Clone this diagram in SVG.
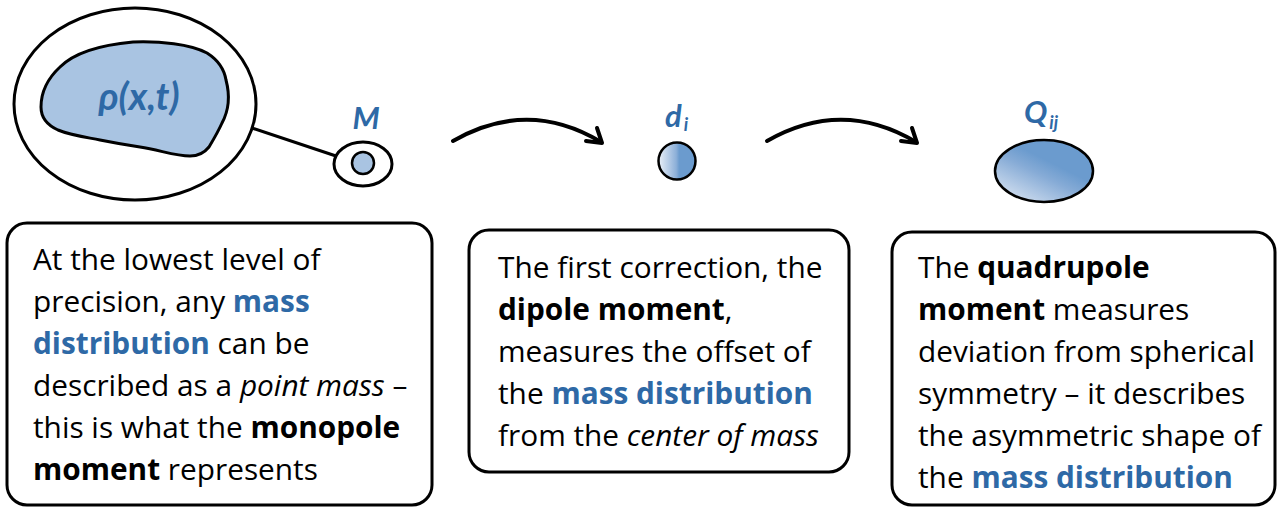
<svg xmlns="http://www.w3.org/2000/svg" width="1279" height="507" viewBox="0 0 1279 507">
  <style>
    .card { fill: #fff; stroke: #000; stroke-width: 3; }
    .sym { font-family: "Lato", "Noto Sans", sans-serif; font-style: italic; font-weight: bold; fill: #2E69A6; }
    .body { font-family: "Open Sans", "Noto Sans", sans-serif; font-size: 29.8px; fill: #000; }
    .b { font-weight: bold; }
    .hl { font-weight: bold; fill: #2E69A6; }
    .i { font-style: italic; }
    .arrow { fill: none; stroke: #000; stroke-width: 4; stroke-linecap: round; stroke-linejoin: round; }
  </style>
  <defs>
    <linearGradient id="gradDipole" x1="0" y1="0" x2="1" y2="0">
      <stop offset="0" stop-color="#EAF0F8"/>
      <stop offset="0.48" stop-color="#8CAFD8"/>
      <stop offset="0.56" stop-color="#6B9BCE"/>
      <stop offset="1" stop-color="#6B9BCE"/>
    </linearGradient>
    <linearGradient id="gradQuad" x1="0.05" y1="1" x2="0.8" y2="0.05">
      <stop offset="0" stop-color="#E2EAF5"/>
      <stop offset="0.5" stop-color="#86ABD6"/>
      <stop offset="0.68" stop-color="#6B9BCE"/>
      <stop offset="1" stop-color="#6B9BCE"/>
    </linearGradient>
  </defs>

  <!-- monopole: extended mass distribution zoomed from a point mass -->
  <g id="monopole">
    <line x1="252" y1="128" x2="336" y2="156" stroke="#000" stroke-width="3"/>
    <ellipse cx="135" cy="104" rx="121" ry="96" fill="#fff" stroke="#000" stroke-width="3"/>
    <path d="M60,67 C75,52 100,45 133,42 C160,41 190,44 207,53 C218,60 224,68 226,80 C230,95 229,110 222,123 C218,132 212,142 209,147 C205,152 200,156 190,156 C175,156 160,150 140,147 C120,144 110,142 100,140 C85,137 70,135 58,130 C47,125 41,118 41,107 C41,95 46,80 60,67 Z" fill="#A9C4E2" stroke="#000" stroke-width="3"/>
    <text class="sym" x="139" y="110" font-size="38" text-anchor="middle">ρ(x,t)</text>
    <ellipse cx="363" cy="164" rx="29" ry="22" fill="#fff" stroke="#000" stroke-width="3"/>
    <circle cx="363" cy="163" r="11" fill="#A9C4E2" stroke="#000" stroke-width="2.5"/>
    <text class="sym" x="366" y="129" font-size="31" text-anchor="middle">M</text>
  </g>

  <!-- dipole -->
  <g id="dipole">
    <circle cx="677" cy="161" r="18.5" fill="url(#gradDipole)" stroke="#000" stroke-width="2.5"/>
    <text class="sym" x="665" y="127" font-size="31">d<tspan font-size="18" dx="2" dy="4">i</tspan></text>
  </g>

  <!-- quadrupole -->
  <g id="quadrupole">
    <ellipse cx="1044" cy="171" rx="49" ry="31" fill="url(#gradQuad)" stroke="#000" stroke-width="2.5"/>
    <text class="sym" x="1024" y="123" font-size="31">Q<tspan font-size="18" dx="2" dy="6">ij</tspan></text>
  </g>

  <!-- progression arrows -->
  <g id="connectors">
    <path class="arrow" d="M453,141 Q528,98 601,142"/>
    <path class="arrow" d="M586,141 L602,143 L597,128"/>
    <path class="arrow" d="M767,141 Q842,98 916,142"/>
    <path class="arrow" d="M901,141 L917,143 L912,128"/>
  </g>

  <!-- explanation cards -->
  <g id="card-monopole">
    <rect class="card" x="7" y="223" width="425" height="282" rx="20"/>
    <text class="body" x="33" y="270">At the lowest level of</text>
    <text class="body" x="33" y="312">precision, any <tspan class="hl">mass</tspan></text>
    <text class="body" x="33" y="354"><tspan class="hl">distribution</tspan> can be</text>
    <text class="body" x="33" y="396">described as a <tspan class="i">point mass</tspan> –</text>
    <text class="body" x="33" y="438">this is what the <tspan class="b">monopole</tspan></text>
    <text class="body" x="33" y="480"><tspan class="b">moment</tspan> represents</text>
  </g>

  <g id="card-dipole">
    <rect class="card" x="469" y="230" width="380" height="242" rx="20"/>
    <text class="body" x="498" y="278">The first correction, the</text>
    <text class="body" x="498" y="320"><tspan class="b">dipole moment</tspan>,</text>
    <text class="body" x="498" y="362">measures the offset of</text>
    <text class="body" x="498" y="404">the <tspan class="hl">mass distribution</tspan></text>
    <text class="body" x="498" y="446">from the <tspan class="i">center of mass</tspan></text>
  </g>

  <g id="card-quadrupole">
    <rect class="card" x="892" y="232" width="383" height="273" rx="20"/>
    <text class="body" x="918" y="278">The <tspan class="b">quadrupole</tspan></text>
    <text class="body" x="918" y="320"><tspan class="b">moment</tspan> measures</text>
    <text class="body" x="918" y="362">deviation from spherical</text>
    <text class="body" x="918" y="404">symmetry – it describes</text>
    <text class="body" x="918" y="446">the asymmetric shape of</text>
    <text class="body" x="918" y="488">the <tspan class="hl">mass distribution</tspan></text>
  </g>
</svg>
